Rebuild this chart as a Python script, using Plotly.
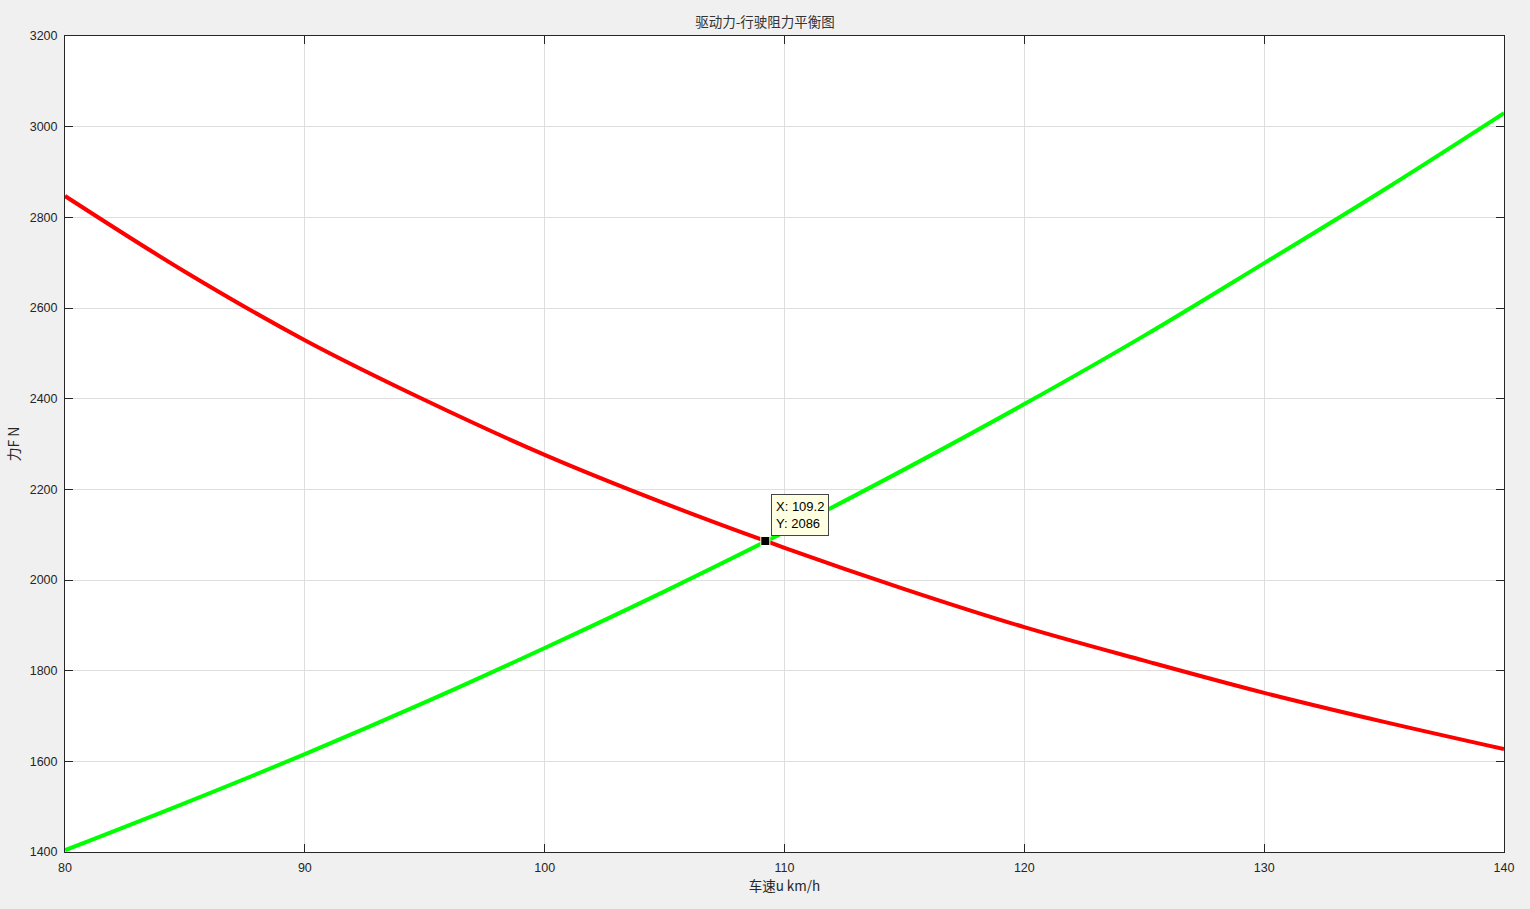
import plotly.graph_objects as go

# Speed (km/h)
speed = [80, 85, 90, 95, 100, 105, 110, 115, 120, 125, 130, 135, 140]
# Driving force (N)
drive_force = [2847, 2680, 2529, 2397, 2276, 2169, 2071, 1980, 1896, 1822, 1751, 1687, 1627]
# Driving resistance (N)
resist_force = [1404, 1508, 1616, 1730, 1850, 1975, 2106, 2244, 2388, 2539, 2699, 2861, 3030]

x_ticks = [80, 90, 100, 110, 120, 130, 140]
y_ticks = [1400, 1600, 1800, 2000, 2200, 2400, 2600, 2800, 3000, 3200]

tip_x = [109.2]
tip_y = [2086]

fig = go.Figure()
fig.add_trace(go.Scatter(x=speed, y=drive_force, mode="lines", line=dict(color="#ff0000", width=4, shape="spline"),
                         showlegend=False, hoverinfo="skip"))
fig.add_trace(go.Scatter(x=speed, y=resist_force, mode="lines", line=dict(color="#00ff00", width=4, shape="spline"),
                         showlegend=False, hoverinfo="skip"))
fig.add_trace(go.Scatter(x=tip_x, y=tip_y, mode="markers",
                         marker=dict(symbol="square", color="black", size=9, line=dict(color="#ffffe1", width=1)),
                         showlegend=False, hoverinfo="skip"))

fig.add_annotation(x=tip_x[0], y=tip_y[0], xref="x", yref="y",
                   text=f"X: {tip_x[0]}<br>Y: {tip_y[0]}", showarrow=False,
                   xanchor="left", yanchor="bottom", xshift=6, yshift=5, align="left",
                   font=dict(family="Arial, Liberation Sans", size=13, color="black"),
                   bgcolor="#ffffe1", bordercolor="#444444", borderwidth=1, borderpad=4)

axis_common = dict(showgrid=True, gridcolor="#dedede", gridwidth=1, zeroline=False,
                   showline=True, linecolor="#262626", linewidth=1, mirror="ticks",
                   ticks="inside", ticklen=8, tickcolor="#262626", ticklabelstandoff=4,
                   tickfont=dict(family="Arial, Liberation Sans", size=12.5, color="#262626"))

fig.update_xaxes(range=[80, 140], tickvals=x_ticks, ticktext=[str(v) for v in x_ticks],
                 title=dict(text="车速u km/h", font=dict(family="Noto Sans CJK SC, Arial", size=13.5, color="#262626"), standoff=4),
                 **axis_common)
fig.update_yaxes(range=[1400, 3200], tickvals=y_ticks, ticktext=[str(v) for v in y_ticks],
                 title=dict(text="力F N", font=dict(family="Noto Sans CJK SC, Arial", size=14, color="#262626"), standoff=6),
                 **axis_common)

fig.update_layout(
    width=1530, height=909,
    paper_bgcolor="#f0f0f0", plot_bgcolor="white",
    margin=dict(l=65, r=26, t=36, b=57),
    title=dict(text="驱动力-行驶阻力平衡图", x=0.5, xanchor="center", y=1 - 22 / 909, yanchor="middle",
               font=dict(family="Noto Sans CJK SC, Arial", size=13.5, color="#333333")),
)

fig.write_html("out.html", config={"displayModeBar": False},
               post_script="document.body.style.margin='0';document.body.style.overflow='hidden';document.body.style.background='#f0f0f0';")
